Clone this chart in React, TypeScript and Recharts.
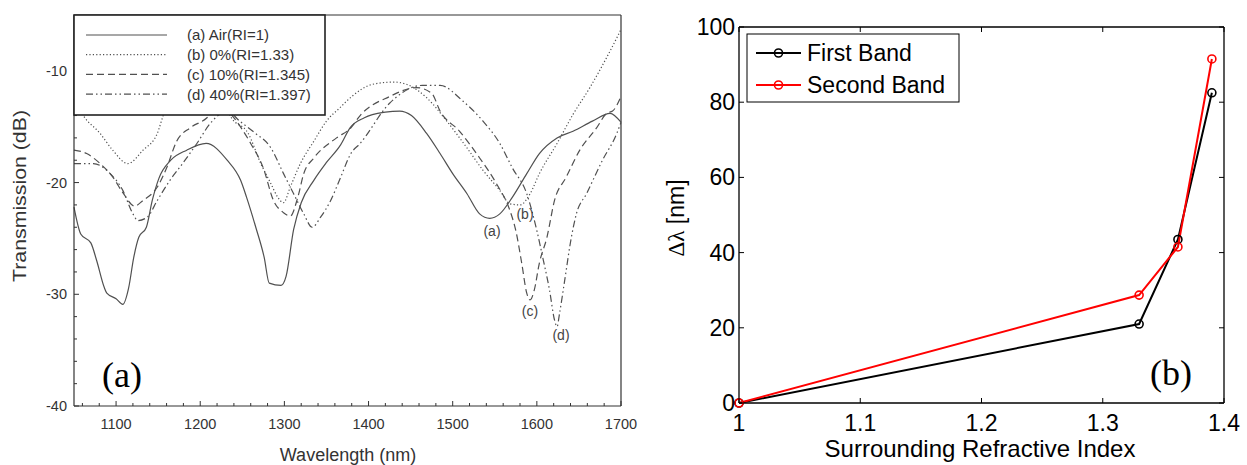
import { LineChart, Line, XAxis, YAxis, ReferenceLine } from 'recharts';

// ---- panel (a): transmission spectra (wavelength nm -> transmission dB) ----
const airWl = [1050, 1058, 1070, 1077, 1086, 1089, 1100, 1108, 1115, 1121, 1127, 1136, 1143, 1151, 1165, 1184, 1207, 1232, 1248, 1255, 1266, 1276, 1282, 1296, 1302, 1311, 1320, 1335, 1350, 1367, 1378, 1395, 1420, 1437, 1451, 1469, 1485, 1500, 1517, 1532, 1544, 1556, 1571, 1588, 1603, 1624, 1643, 1666, 1687, 1700];
const airDb = [-22.2, -24.6, -25.4, -27, -29.4, -29.9, -30.4, -30.9, -29.4, -26.7, -24.9, -24, -21.6, -19.6, -18, -17.1, -16.5, -18, -19.8, -21.3, -24, -26.7, -29, -29.2, -28.4, -24.2, -21.8, -19.8, -18.2, -16.6, -15.1, -14.2, -13.7, -13.6, -14, -15.6, -17.4, -19.2, -21, -22.8, -23.2, -22.8, -21.3, -19.2, -17.4, -16, -15.4, -14.5, -13.8, -14.6];

const waterWl = [1050, 1061, 1081, 1096, 1114, 1132, 1149, 1156, 1178, 1200, 1220, 1237, 1257, 1272, 1284, 1292, 1299, 1307, 1319, 1335, 1350, 1366, 1380, 1405, 1430, 1445, 1469, 1493, 1517, 1536, 1556, 1568, 1580, 1592, 1603, 1624, 1643, 1663, 1683, 1700];
const waterDb = [-12.5, -14, -15.6, -17.1, -18.3, -17.1, -15.6, -14, -11.2, -10.2, -11.5, -14.2, -15.6, -18.3, -20.1, -21.3, -21.8, -20.4, -18.3, -16.3, -14.5, -13.3, -12.3, -11.2, -11, -11.2, -12.4, -14.5, -16.9, -18.9, -20.7, -21.9, -22, -21, -19.2, -16.5, -13.9, -11.5, -8.8, -6.3];

const sol10Wl = [1050, 1065, 1081, 1096, 1108, 1122, 1132, 1149, 1160, 1172, 1188, 1208, 1223, 1238, 1260, 1275, 1287, 1299, 1307, 1316, 1323, 1335, 1362, 1379, 1390, 1425, 1457, 1475, 1485, 1508, 1532, 1552, 1568, 1575, 1582, 1588, 1592, 1597, 1603, 1612, 1621, 1635, 1651, 1671, 1683, 1690, 1700];
const sol10Db = [-17.1, -17.4, -18.3, -19.5, -20.9, -22.1, -21.6, -20.4, -18.7, -16.3, -15.1, -14.2, -12.8, -14, -16.5, -18.7, -21.6, -22.7, -23, -21.3, -19.2, -17.8, -16, -15.1, -14, -12.3, -11.5, -12, -13.6, -15.4, -17.8, -20.1, -22.5, -24.3, -27.2, -29.9, -30.5, -29.6, -27.2, -24.9, -21.6, -19.5, -17.1, -15.1, -13.8, -13.6, -12.3];

const sol40Wl = [1050, 1073, 1093, 1108, 1120, 1126, 1137, 1149, 1164, 1179, 1196, 1212, 1232, 1247, 1264, 1284, 1299, 1311, 1323, 1333, 1343, 1355, 1367, 1379, 1390, 1425, 1464, 1485, 1512, 1536, 1556, 1571, 1588, 1600, 1607, 1615, 1621, 1624, 1627, 1633, 1641, 1647, 1659, 1678, 1695, 1700];
const sol40Db = [-18.3, -18.3, -19.2, -20.7, -22.8, -23.4, -23.1, -21.6, -19.8, -18.3, -16.5, -14.7, -13.6, -14.5, -15.5, -16.9, -19.2, -21, -22.8, -24, -23.1, -21.6, -19.5, -17.4, -16.5, -12.9, -11.3, -11.3, -12.7, -14.5, -16.5, -18.7, -21, -24.3, -26.7, -29.6, -32.3, -32.9, -31.7, -28.8, -24.9, -22.8, -21, -18, -15.6, -14.6];

const spectraNames = ['(a) Air(RI=1)', '(b) 0%(RI=1.33)', '(c) 10%(RI=1.345)', '(d) 40%(RI=1.397)'];
const wlTicks = [1060, 1080, 1100, 1120, 1140, 1160, 1180, 1200, 1220, 1240, 1260, 1280, 1300, 1320, 1340, 1360, 1380, 1400, 1420, 1440, 1460, 1480, 1500, 1520, 1540, 1560, 1580, 1600, 1620, 1640, 1660, 1680, 1700];
const dbTicks = [-40, -38, -36, -34, -32, -30, -28, -26, -24, -22, -20, -18, -16, -14, -12, -10, -8, -6];

// ---- panel (b): wavelength shift vs surrounding RI ----
const ri = [1, 1.33, 1.362, 1.39];
const firstBand = [0, 21, 43.5, 82.5];
const secondBand = [0, 28.7, 41.5, 91.5];
const riTicks = [1, 1.1, 1.2, 1.3, 1.4];
const shiftTicks = [0, 20, 40, 60, 80, 100];

const toPts = (xs: number[], ys: number[]) => xs.map((x, i) => ({ x, y: ys[i] }));

const GRAY = '#505050';
const AXA = '#333';
const SANS = '"Liberation Sans", Arial, sans-serif';
const SERIF = '"Liberation Serif", "Times New Roman", serif';
const dashes = [undefined, '1.2 2.2', '7 4', '7 3 1.5 3 1.5 3'];

// panel (a) plot box (page px)
const A_L = 74, A_B = 406;
// panel (b) plot box (chart-local px)
const B_L = 99, B_R = 584, B_T = 27, B_B = 403;

const WlTick = (p: any) => {
  const v = p.payload.value;
  const major = v % 100 === 0;
  return (
    <g>
      <line x1={p.x} x2={p.x} y1={A_B} y2={A_B - (major ? 5 : 3)} stroke={AXA} />
      {major && (
        <text x={p.x} y={A_B + 23} textAnchor="middle" fontSize={14.5} fill="#333" fontFamily={SANS}>{v}</text>
      )}
    </g>
  );
};

const DbTick = (p: any) => {
  const v = p.payload.value;
  const major = v % 10 === 0;
  return (
    <g>
      <line x1={A_L} x2={A_L + (major ? 5 : 3)} y1={p.y} y2={p.y} stroke={AXA} />
      {major && (
        <text x={67} y={p.y} dy="0.35em" textAnchor="end" fontSize={14.5} fill="#333" fontFamily={SANS}>{v}</text>
      )}
    </g>
  );
};

const RiTick = (p: any) => (
  <g>
    <line x1={p.x} x2={p.x} y1={B_B} y2={B_B - 5} stroke="#000" />
    <text x={p.x} y={B_B + 28} textAnchor="middle" fontSize={23} fill="#000" fontFamily={SANS}>{p.payload.value}</text>
  </g>
);
const RiTopTick = (p: any) => <line x1={p.x} x2={p.x} y1={B_T} y2={B_T + 5} stroke="#000" />;
const ShiftTick = (p: any) => (
  <g>
    <line x1={B_L} x2={B_L + 5} y1={p.y} y2={p.y} stroke="#000" />
    <text x={B_L - 4} y={p.y} dy="0.35em" textAnchor="end" fontSize={23} fill="#000" fontFamily={SANS}>{p.payload.value}</text>
  </g>
);
const ShiftRightTick = (p: any) => <line x1={B_R} x2={B_R - 5} y1={p.y} y2={p.y} stroke="#000" />;

const spectra = [
  toPts(airWl, airDb),
  toPts(waterWl, waterDb),
  toPts(sol10Wl, sol10Db),
  toPts(sol40Wl, sol40Db),
];

export default function App() {
  return (
    <div style={{ position: 'absolute', left: 0, top: 0, width: 1247, height: 465, background: '#fff', overflow: 'hidden' }}>
      <div style={{ position: 'absolute', left: 0, top: 0 }}>
        <LineChart width={640} height={465} margin={{ top: 15, right: 19, bottom: 0, left: 0 }}>
          <XAxis dataKey="x" type="number" domain={[1050, 1700]} ticks={wlTicks} interval={0} height={59}
            tickLine={false} axisLine={{ stroke: AXA, strokeWidth: 1.2 }} tick={WlTick} />
          <YAxis dataKey="y" type="number" domain={[-40, -5]} ticks={dbTicks} interval={0} width={74}
            tickLine={false} axisLine={{ stroke: AXA, strokeWidth: 1.2 }} tick={DbTick} />
          <ReferenceLine y={-5} stroke={AXA} strokeWidth={1.2} />
          <ReferenceLine x={1700} stroke={AXA} strokeWidth={1.2} />
          {spectra.map((pts, i) => (
            <Line key={spectraNames[i]} data={pts} dataKey="y" type="monotone" stroke={GRAY} strokeWidth={1.2}
              strokeDasharray={dashes[i]} dot={false} activeDot={false} isAnimationActive={false} />
          ))}
        </LineChart>
      </div>

      <div style={{ position: 'absolute', left: 640, top: 0 }}>
        <LineChart width={607} height={465} margin={{ top: 26, right: 22, bottom: 0, left: 0 }}>
          <XAxis xAxisId="b" dataKey="x" type="number" domain={[1, 1.4]} ticks={riTicks} interval={0} height={62}
            tickLine={false} axisLine={{ stroke: '#000', strokeWidth: 1.3 }} tick={RiTick} />
          <XAxis xAxisId="t" orientation="top" dataKey="x" type="number" domain={[1, 1.4]} ticks={riTicks} interval={0} height={1}
            tickLine={false} axisLine={{ stroke: '#000', strokeWidth: 1.3 }} tick={RiTopTick} />
          <YAxis yAxisId="l" type="number" domain={[0, 100]} ticks={shiftTicks} interval={0} width={99}
            tickLine={false} axisLine={{ stroke: '#000', strokeWidth: 1.3 }} tick={ShiftTick} />
          <YAxis yAxisId="r" orientation="right" type="number" domain={[0, 100]} ticks={shiftTicks} interval={0} width={1}
            tickLine={false} axisLine={{ stroke: '#000', strokeWidth: 1.3 }} tick={ShiftRightTick} />
          <Line xAxisId="b" yAxisId="l" data={toPts(ri, firstBand)} dataKey="y" type="linear" stroke="#000" strokeWidth={2}
            dot={{ r: 4, stroke: '#000', strokeWidth: 1.6, fill: 'none' }} activeDot={false} isAnimationActive={false} />
          <Line xAxisId="t" yAxisId="r" data={toPts(ri, secondBand)} dataKey="y" type="linear" stroke="#f00" strokeWidth={2}
            dot={{ r: 4, stroke: '#f00', strokeWidth: 1.6, fill: 'none' }} activeDot={false} isAnimationActive={false} />
        </LineChart>
      </div>

      <svg width={1247} height={465} style={{ position: 'absolute', left: 0, top: 0, pointerEvents: 'none' }}>
        {/* panel (a) legend and labels */}
        <rect x={74} y={15} width={251} height={100} fill="#fff" stroke="#222" strokeWidth={1.6} />
        {spectraNames.map((name, i) => (
          <g key={name}>
            <line x1={86} x2={167} y1={35 + i * 19.7} y2={35 + i * 19.7} stroke={GRAY} strokeWidth={1.2} strokeDasharray={dashes[i]} />
            <text x={187} y={35 + i * 19.7} dy="0.36em" fontSize={15} fill="#333" fontFamily={SANS}>{name}</text>
          </g>
        ))}
        <text x={492} y={231} dy="0.35em" textAnchor="middle" fontSize={14} fill="#444" fontFamily={SANS}>(a)</text>
        <text x={525} y={214} dy="0.35em" textAnchor="middle" fontSize={14} fill="#444" fontFamily={SANS}>(b)</text>
        <text x={530} y={311} dy="0.35em" textAnchor="middle" fontSize={14} fill="#444" fontFamily={SANS}>(c)</text>
        <text x={561} y={335} dy="0.35em" textAnchor="middle" fontSize={14} fill="#444" fontFamily={SANS}>(d)</text>
        <text x={122} y={374} dy="0.35em" textAnchor="middle" fontSize={36} fill="#000" fontFamily={SERIF}>(a)</text>
        <text x={348} y={461} textAnchor="middle" fontSize={18} fill="#333" fontFamily={SANS}>Wavelength (nm)</text>
        <text x={0} y={0} transform="translate(26,196) rotate(-90)" textAnchor="middle" fontSize={19} fill="#333"
          fontFamily={SANS} textLength={172} lengthAdjust="spacingAndGlyphs">Transmission (dB)</text>

        {/* panel (b) legend and labels */}
        <rect x={747} y={34} width={212} height={68} fill="#fff" stroke="#000" strokeWidth={1} />
        <line x1={756} x2={801} y1={53} y2={53} stroke="#000" strokeWidth={2} />
        <circle cx={778.5} cy={53} r={4} fill="none" stroke="#000" strokeWidth={1.6} />
        <text x={807} y={53} dy="0.36em" fontSize={23} fill="#000" fontFamily={SANS}>First Band</text>
        <line x1={756} x2={801} y1={85} y2={85} stroke="#f00" strokeWidth={2} />
        <circle cx={778.5} cy={85} r={4} fill="none" stroke="#f00" strokeWidth={1.6} />
        <text x={807} y={85} dy="0.36em" fontSize={23} fill="#000" fontFamily={SANS}>Second Band</text>
        <text x={1171} y={372} dy="0.35em" textAnchor="middle" fontSize={36} fill="#000" fontFamily={SERIF}>(b)</text>
        <text x={980} y={457} textAnchor="middle" fontSize={24} fill="#000" fontFamily={SANS}>Surrounding Refractive Index</text>
        <text x={0} y={0} transform="translate(684,218) rotate(-90)" textAnchor="middle" fontSize={23} fill="#000" fontFamily={SANS}>
          <tspan fontFamily={SERIF}>Δλ</tspan> [nm]
        </text>
      </svg>
    </div>
  );
}
